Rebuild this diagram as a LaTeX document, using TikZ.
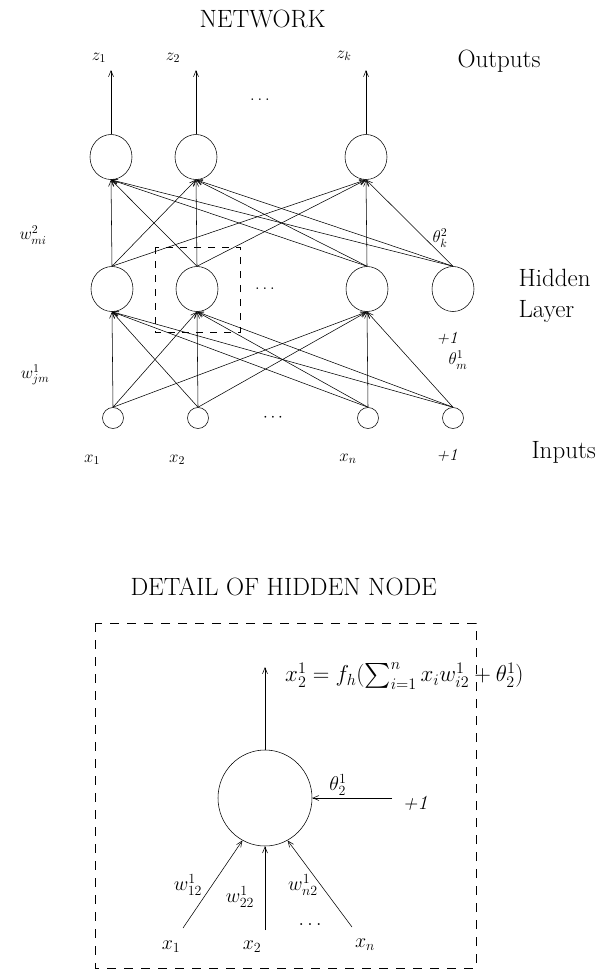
\RequirePackage{fix-cm}
\documentclass[tikz,border=0pt]{standalone}
\usepackage{exscale}
\usetikzlibrary{arrows.meta,shapes.geometric}
\begin{document}
\begin{tikzpicture}[x=1pt,y=-1pt,
  bignode/.style={draw, ellipse, minimum width=42pt, minimum height=45pt, inner sep=0pt, line width=0.55pt},
  smallnode/.style={draw, circle, minimum size=21pt, inner sep=0pt, line width=0.55pt},
  conn/.style={-{Straight Barb[length=6pt,width=5pt]}, line width=0.55pt},
  dbox/.style={line width=0.6pt, dash pattern=on 7pt off 7pt},
  word/.style={font=\fontsize{25}{30}\selectfont, anchor=base west},
  lbl/.style={font=\fontsize{17}{20}\selectfont},
  dlbl/.style={font=\fontsize{20}{24}\selectfont}]
\useasboundingbox (0,0) rectangle (599,972);
% ---------------- NETWORK ----------------
\node[word] (t1) at (196,27) {NETWORK};
\node[word] (outw) at (454,67) {Outputs};
\node[word] (hidw) at (515,286) {Hidden};
\node[word] (layw) at (515,317) {Layer};
\node[word] (inw) at (528,458) {Inputs};

\node[bignode] (o1) at (111,157) {};
\node[bignode] (o2) at (196,157) {};
\node[bignode] (o3) at (366,157) {};
\node[bignode] (h1) at (112,289) {};
\node[bignode] (h2) at (197,289) {};
\node[bignode] (h3) at (367,289) {};
\node[bignode] (hb) at (453,289) {};
\node[smallnode] (i1) at (113,418) {};
\node[smallnode] (i2) at (198,418) {};
\node[smallnode] (i3) at (368,418) {};
\node[smallnode] (ib) at (453,418) {};

\coordinate (z1e) at (111,70);
\coordinate (z2e) at (196,70);
\coordinate (z3e) at (366,70);
\draw[conn] (o1.north) -- (z1e);
\draw[conn] (o2.north) -- (z2e);
\draw[conn] (o3.north) -- (z3e);

\foreach \h in {h1,h2,h3,hb}
  \foreach \o in {o1,o2,o3}
    \draw[conn] (\h.north) -- (\o.south);
\foreach \i in {i1,i2,i3,ib}
  \foreach \h in {h1,h2,h3}
    \draw[conn] (\i.north) -- (\h.south);

\node[lbl] (lz1) at (99,58) {$z_1$};
\node[lbl] (lz2) at (173,58) {$z_2$};
\node[lbl] (lz3) at (344,56) {$z_k$};
\node[lbl] (dots1) at (260,100) {$\dots$};
\node[lbl] (dots2) at (265,289) {$\dots$};
\node[lbl] (dots3) at (273,418) {$\cdots$};
\node[lbl] (w2) at (33,235) {$w^2_{mi}$};
\node[lbl] (th2) at (440,238) {$\theta^2_k$};
\node[lbl] (p1h) at (447,338) {\textit{+1}};
\node[lbl] (w1) at (35,375) {$w^1_{jm}$};
\node[lbl] (th1) at (458,360) {$\theta^1_m$};
\node[lbl] (lx1) at (92,460) {$x_1$};
\node[lbl] (lx2) at (177,460) {$x_2$};
\node[lbl] (lx3) at (348,459) {$x_n$};
\node[lbl] (p1i) at (447,455) {\textit{+1}};

\draw[dbox] (155,247) rectangle (240,332);

% ---------------- DETAIL ----------------
\node[word] (t2) at (127,595) {DETAIL OF HIDDEN NODE};
\draw[dbox, dash pattern=on 9pt off 8pt] (95,623) rectangle (476,968);

\node[draw, ellipse, minimum width=94pt, minimum height=96pt, inner sep=0pt, line width=0.55pt] (d) at (265,798) {};
\coordinate (dout) at (265,667);
\draw[conn] (d.north) -- (dout);
\node[font=\fontsize{23}{27}\selectfont, anchor=west, inner sep=1pt] (form) at (284,676) {$x_2^1 = f_h(\sum_{i=1}^n x_i w_{i2}^1 + \theta_2^1)$};

\coordinate (dps) at (392,798);
\draw[conn] (dps) -- (d.east);
\node[dlbl] (dp1) at (415,803) {\textit{+1}};
\node[dlbl] (dth) at (338,785) {$\theta^1_2$};

\coordinate (dx1s) at (183,928);
\coordinate (dx2s) at (265,930);
\coordinate (dx3s) at (352,927);
\draw[conn] (dx1s) -- (d.-118);
\draw[conn] (dx2s) -- (d.south);
\draw[conn] (dx3s) -- (d.-62);

\node[dlbl] (dw1) at (188,885) {$w^1_{12}$};
\node[dlbl] (dw2) at (240,897) {$w^1_{22}$};
\node[dlbl] (dw3) at (303,885) {$w^1_{n2}$};
\node[dlbl] (ddots) at (310,925) {$\dots$};
\node[dlbl] (dx1) at (171,947) {$x_1$};
\node[dlbl] (dx2) at (252,947) {$x_2$};
\node[dlbl] (dx3) at (365,945) {$x_n$};
\end{tikzpicture}
\end{document}
